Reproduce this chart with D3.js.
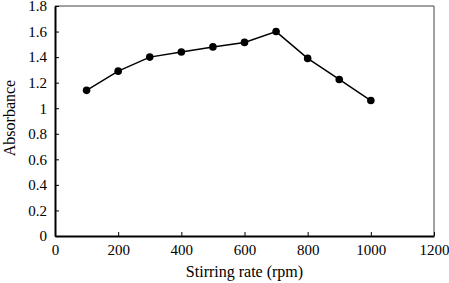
<!DOCTYPE html>
<html>
<head>
<meta charset="utf-8">
<script src="https://cdn.jsdelivr.net/npm/d3@7"></script>
<style>
    body { margin: 0; background: #fff; }
    text { font-family: "Liberation Serif", "Times New Roman", serif; fill: #000; }
</style>
</head>
<body>
<svg id="chart" width="449" height="283"></svg>
<script>
const stirringRates = [100, 200, 300, 400, 500, 600, 700, 800, 900, 1000]
const absorbance = [1.14, 1.29, 1.40, 1.44, 1.48, 1.515, 1.60, 1.39, 1.225, 1.06]
const xTicks = [0, 200, 400, 600, 800, 1000, 1200]
const yTicks = [0, 0.2, 0.4, 0.6, 0.8, 1, 1.2, 1.4, 1.6, 1.8]

const svg = d3.select("#chart")
const plot = { left: 55, right: 434, top: 6, bottom: 236 }

const scaleX = d3.scaleLinear().domain([0, 1200]).range([plot.left, plot.right])
const scaleY = d3.scaleLinear().domain([0, 1.8]).range([plot.bottom, plot.top])

// frame on top and right
svg.append("path")
    .attr("d", `M${plot.left},${plot.top}H${plot.right}V${plot.bottom}`)
    .attr("fill", "none")
    .attr("stroke", "#444")
    .attr("stroke-width", 1)

const xAxis = svg.append("g")
    .attr("transform", `translate(0,${plot.bottom})`)
    .call(d3.axisBottom(scaleX).tickValues(xTicks).tickSizeInner(-4).tickSizeOuter(0).tickPadding(8).tickFormat(d3.format("d")))
xAxis.select(".domain").attr("stroke-width", 2)
xAxis.selectAll("text").style("font-size", "15px")

const yAxis = svg.append("g")
    .attr("transform", `translate(${plot.left},0)`)
    .call(d3.axisLeft(scaleY).tickValues(yTicks).tickSizeInner(-4).tickSizeOuter(0).tickPadding(8).tickFormat(d => String(+d.toFixed(1))))
yAxis.select(".domain").attr("stroke-width", 2)
yAxis.selectAll("text").style("font-size", "15px")

const data = stirringRates.map((x, i) => ({ x: x, y: absorbance[i] }))

const line = d3.line()
    .x(d => scaleX(d.x))
    .y(d => scaleY(d.y))

svg.append("path")
    .datum(data)
    .attr("fill", "none")
    .attr("stroke", "#000")
    .attr("stroke-width", 1.5)
    .attr("d", line)

svg.selectAll("circle")
    .data(data)
    .enter()
    .append("circle")
    .attr("cx", d => scaleX(d.x))
    .attr("cy", d => scaleY(d.y))
    .attr("r", 3.8)
    .attr("fill", "#000")

svg.append("text")
    .attr("x", (plot.left + plot.right) / 2)
    .attr("y", 277)
    .attr("text-anchor", "middle")
    .style("font-size", "16px")
    .text("Stirring rate (rpm)")

svg.append("text")
    .attr("transform", "translate(15,118) rotate(-90)")
    .attr("text-anchor", "middle")
    .style("font-size", "16px")
    .text("Absorbance")
</script>
</body>
</html>
